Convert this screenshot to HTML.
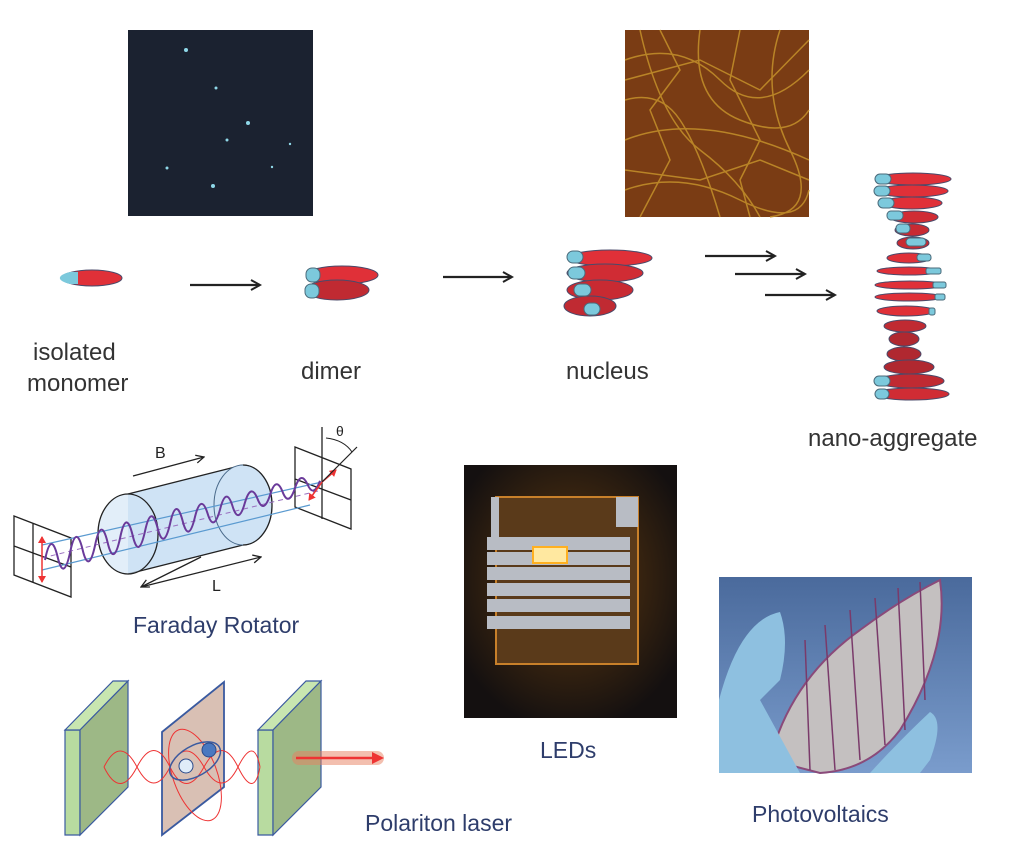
<!DOCTYPE html>
<html><head><meta charset="utf-8"><style>
html,body{margin:0;padding:0;background:#fff;width:1024px;height:847px;overflow:hidden}
svg{display:block}
.t{font-family:"Liberation Sans",sans-serif;fill:#333;font-size:24px}
.b{font-family:"Liberation Sans",sans-serif;fill:#2e3d6b;font-size:23px}
</style></head><body>
<svg width="1024" height="847" viewBox="0 0 1024 847" xmlns="http://www.w3.org/2000/svg">
<defs>
<marker id="ah" markerWidth="12" markerHeight="12" refX="10" refY="6" orient="auto" markerUnits="userSpaceOnUse"><path d="M1,1 L10,6 L1,11" fill="none" stroke="#222" stroke-width="2"/></marker>
<marker id="ak" markerWidth="10" markerHeight="10" refX="9" refY="5" orient="auto" markerUnits="userSpaceOnUse"><path d="M1,1 L9,5 L1,9" fill="none" stroke="#222" stroke-width="1.3"/></marker>
<marker id="ar" markerWidth="8" markerHeight="8" refX="6" refY="4" orient="auto" markerUnits="userSpaceOnUse"><path d="M0,0 L7,4 L0,8z" fill="#e33"/></marker>
<radialGradient id="glow" cx="0.5" cy="0.45" r="0.6"><stop offset="0" stop-color="#8a5a20"/><stop offset="0.5" stop-color="#3a2510"/><stop offset="1" stop-color="#141010"/></radialGradient>
<linearGradient id="sky" x1="0" y1="0" x2="0" y2="1"><stop offset="0" stop-color="#4a6a9c"/><stop offset="1" stop-color="#7a9ccc"/></linearGradient>
</defs>

<rect x="128" y="30" width="185" height="186" fill="#1b2230"/>
<g fill="#8fd8e8"><circle cx="186" cy="50" r="2"/><circle cx="216" cy="88" r="1.5"/><circle cx="248" cy="123" r="2"/><circle cx="227" cy="140" r="1.5"/><circle cx="290" cy="144" r="1.2"/><circle cx="167" cy="168" r="1.5"/><circle cx="213" cy="186" r="2"/><circle cx="272" cy="167" r="1.2"/></g>

<rect x="625" y="30" width="184" height="187" fill="#7a3c14"/>
<g stroke="#c9962c" stroke-width="1.5" fill="none" opacity="0.8">
<path d="M625,60 Q680,40 720,80 T809,70"/><path d="M640,30 Q660,120 700,150 T760,217"/><path d="M625,140 Q700,110 809,160"/><path d="M700,30 Q690,100 740,120 T809,110"/><path d="M625,190 Q680,170 740,200 T809,190"/><path d="M780,30 Q760,90 790,150 T770,217"/><path d="M625,100 Q660,90 680,120 T720,217"/><path d="M660,30 L680,70 L650,110 L670,160 L640,217"/><path d="M740,30 L730,80 L760,140 L740,180 L750,217"/><path d="M625,170 L700,180 L760,160 L809,180"/><path d="M625,80 L700,60 L760,90 L809,40"/>
</g>

<ellipse cx="92" cy="278" rx="30" ry="8" fill="#e03038" stroke="#4a4a6a"/>
<path d="M70,272 A30,8 0 0 0 70,284 L78,284 L78,272 Z" fill="#7cc9dc"/>
<line x1="190" y1="285" x2="260" y2="285" stroke="#222" stroke-width="2.2" marker-end="url(#ah)"/>
<ellipse cx="342" cy="275" rx="36" ry="9" fill="#e03038" stroke="#4a4a6a"/>
<ellipse cx="337" cy="290" rx="32" ry="10" fill="#c02a32" stroke="#4a4a6a"/>
<rect x="306" y="268" width="14" height="14" rx="6" fill="#7cc9dc" stroke="#4a6a7a"/>
<rect x="305" y="284" width="14" height="14" rx="6" fill="#7cc9dc" stroke="#4a6a7a"/>
<line x1="443" y1="277" x2="512" y2="277" stroke="#222" stroke-width="2.2" marker-end="url(#ah)"/>
<g stroke="#4a4a6a">
<ellipse cx="610" cy="258" rx="42" ry="8" fill="#e03038"/>
<ellipse cx="605" cy="273" rx="38" ry="9" fill="#d02c34"/>
<ellipse cx="600" cy="290" rx="33" ry="10" fill="#c82a32"/>
<ellipse cx="590" cy="306" rx="26" ry="10" fill="#c02a32"/>
</g>
<g fill="#7cc9dc" stroke="#4a6a7a"><rect x="567" y="251" width="16" height="12" rx="6"/><rect x="568" y="267" width="17" height="12" rx="6"/><rect x="574" y="284" width="17" height="12" rx="6"/><rect x="584" y="303" width="16" height="12" rx="6"/></g>
<line x1="705" y1="256" x2="775" y2="256" stroke="#222" stroke-width="2.2" marker-end="url(#ah)"/>
<line x1="735" y1="274" x2="805" y2="274" stroke="#222" stroke-width="2.2" marker-end="url(#ah)"/>
<line x1="765" y1="295" x2="835" y2="295" stroke="#222" stroke-width="2.2" marker-end="url(#ah)"/>
<g stroke="#4a4a6a">
<ellipse cx="913" cy="179" rx="38" ry="6" fill="#e03038"/>
<ellipse cx="912" cy="191" rx="36" ry="6" fill="#e03038"/>
<ellipse cx="912" cy="203" rx="30" ry="6" fill="#e03038"/>
<ellipse cx="914" cy="217" rx="24" ry="6" fill="#d02c34"/>
<ellipse cx="912" cy="230" rx="17" ry="6" fill="#c82a32"/>
<ellipse cx="913" cy="243" rx="16" ry="6" fill="#c82a32"/>
<ellipse cx="909" cy="258" rx="22" ry="5" fill="#e03038"/>
<ellipse cx="909" cy="271" rx="32" ry="4" fill="#e03038"/>
<ellipse cx="910" cy="285" rx="35" ry="4" fill="#e03038"/>
<ellipse cx="909" cy="297" rx="34" ry="4" fill="#e03038"/>
<ellipse cx="906" cy="311" rx="29" ry="5" fill="#e03038"/>
<ellipse cx="905" cy="326" rx="21" ry="6" fill="#c02a32"/>
<ellipse cx="904" cy="339" rx="15" ry="7" fill="#b02830"/>
<ellipse cx="904" cy="354" rx="17" ry="7" fill="#b02830"/>
<ellipse cx="909" cy="367" rx="25" ry="7" fill="#b02830"/>
<ellipse cx="911" cy="381" rx="33" ry="7" fill="#c02a32"/>
<ellipse cx="912" cy="394" rx="37" ry="6" fill="#d02c34"/>
</g>
<g fill="#7cc9dc" stroke="#4a6a7a"><rect x="875" y="174" width="16" height="10" rx="5"/><rect x="874" y="186" width="16" height="10" rx="5"/><rect x="878" y="198" width="16" height="10" rx="5"/><rect x="887" y="211" width="16" height="9" rx="4"/><rect x="896" y="224" width="14" height="9" rx="4"/><rect x="906" y="238" width="20" height="8" rx="4"/><rect x="917" y="254" width="14" height="7" rx="3"/><rect x="926" y="268" width="15" height="6" rx="2"/><rect x="933" y="282" width="13" height="6" rx="2"/><rect x="935" y="294" width="10" height="6" rx="2"/><rect x="929" y="308" width="6" height="7" rx="2"/><rect x="874" y="376" width="16" height="10" rx="5"/><rect x="875" y="389" width="14" height="10" rx="5"/></g>

<text class="t" x="33" y="360">isolated</text>
<text class="t" x="27" y="391">monomer</text>
<text class="t" x="301" y="379">dimer</text>
<text class="t" x="566" y="379">nucleus</text>
<text class="t" x="808" y="446">nano-aggregate</text>

<!-- Faraday rotator -->
<g stroke="#222" stroke-width="1.3" fill="none">
<path d="M14,516 L71,538 L71,597 L14,575 Z M33,523 L33,582 M14,546 L71,567"/>
<path d="M295,447 L351,469 L351,529 L295,507 Z M322,427 L322,519 M295,479 L351,500"/>
</g>
<path d="M128,494 L243,465 L243,545 L128,574 Z" fill="#cfe3f5"/>
<line x1="128" y1="494" x2="243" y2="465" stroke="#222" stroke-width="1.3"/>
<line x1="128" y1="574" x2="243" y2="545" stroke="#222" stroke-width="1.3"/>
<ellipse cx="243" cy="505" rx="29" ry="40" fill="#cfe3f5" stroke="#4a6a8a" stroke-width="1"/>
<path d="M243,465 A29,40 0 0 1 243,545" fill="none" stroke="#222" stroke-width="1.3"/>
<ellipse cx="128" cy="534" rx="30" ry="40" fill="#cfe3f5" fill-opacity="0.6" stroke="#222" stroke-width="1.3"/>
<line x1="42" y1="545" x2="322" y2="482" stroke="#5a9ad0" stroke-width="1.2"/>
<line x1="42" y1="570" x2="310" y2="505" stroke="#5a9ad0" stroke-width="1.2"/>
<line x1="42" y1="558" x2="322" y2="490" stroke="#9a70c0" stroke-width="1" stroke-dasharray="5,4"/>
<path d="M45,560 q6,-30 12.5,-3.6 q6,26 12.5,-3.6 q6,-30 12.5,-3.6 q6,26 12.5,-3.6 q6,-30 12.5,-3.6 q6,26 12.5,-3.6 q6,-30 12.5,-3.6 q6,26 12.5,-3.6 q6,-28 12.5,-3.6 q6,24 12.5,-3.6 q6,-28 12.5,-3.6 q6,24 12.5,-3.6 q6,-24 12.5,-3.6 q6,20 12.5,-3.6 q6,-24 12.5,-3.6 q6,20 12.5,-3.6 q6,-20 12.5,-3.6 q6,16 12.5,-3.6 q6,-20 12.5,-3.6 q6,16 12.5,-3.6 q6,-18 12.5,-3.6 q6,14 12.5,-3.6" fill="none" stroke="#6a3a9a" stroke-width="2"/>
<line x1="42" y1="560" x2="42" y2="537" stroke="#e33" stroke-width="1.5" marker-end="url(#ar)"/>
<line x1="42" y1="560" x2="42" y2="582" stroke="#e33" stroke-width="1.5" marker-end="url(#ar)"/>
<line x1="322" y1="482" x2="336" y2="470" stroke="#e33" stroke-width="1.5" marker-end="url(#ar)"/>
<line x1="322" y1="482" x2="309" y2="500" stroke="#e33" stroke-width="1.5" marker-end="url(#ar)"/>
<line x1="322" y1="482" x2="357" y2="447" stroke="#222" stroke-width="1.2"/>
<path d="M326,438 Q344,440 352,452" fill="none" stroke="#222"/>
<text x="336" y="436" font-family="Liberation Sans,sans-serif" font-size="14" fill="#222">θ</text>
<line x1="133" y1="476" x2="204" y2="457" stroke="#222" stroke-width="1.3" marker-end="url(#ak)"/>
<text x="155" y="458" font-family="Liberation Sans,sans-serif" font-size="16" fill="#222">B</text>
<line x1="201" y1="557" x2="141" y2="587" stroke="#222" stroke-width="1.3" marker-end="url(#ak)"/>
<line x1="141" y1="587" x2="261" y2="557" stroke="#222" stroke-width="1.3" marker-end="url(#ak)"/>
<text x="212" y="591" font-family="Liberation Sans,sans-serif" font-size="16" fill="#222">L</text>
<text class="b" x="133" y="633">Faraday Rotator</text>

<!-- Polariton laser -->
<g stroke="#3a5aa0" stroke-width="1.2">
<path d="M65,730 L80,730 L80,835 L65,835 Z" fill="#b8dba0"/>
<path d="M65,730 L113,681 L128,681 L80,730 Z" fill="#c8e6b0"/>
<path d="M80,730 L128,681 L128,787 L80,835 Z" fill="#9db886"/>
<path d="M162,732 L224,682 L224,787 L162,835 Z" fill="#d9c0b4" stroke-width="1.8"/>
<path d="M258,730 L273,730 L273,835 L258,835 Z" fill="#b8dba0"/>
<path d="M258,730 L306,681 L321,681 L273,730 Z" fill="#c8e6b0"/>
<path d="M273,730 L321,681 L321,787 L273,835 Z" fill="#9db886"/>
</g>
<path d="M104,767 Q120,735 137,767 T170,767 T204,767 T238,767 T260,767 M104,767 Q120,800 137,767 T170,767 T204,767 T238,767 T260,767" fill="none" stroke="#e33" stroke-width="1"/>
<ellipse cx="195" cy="775" rx="22" ry="48" transform="rotate(-20 195 775)" fill="none" stroke="#e33" stroke-width="1"/>
<ellipse cx="195" cy="761" rx="28" ry="15" transform="rotate(-30 195 761)" fill="none" stroke="#3a5aa0" stroke-width="1.5"/>
<circle cx="209" cy="750" r="7" fill="#4a78c0" stroke="#2a4a8a"/>
<circle cx="186" cy="766" r="7" fill="#e0ecf8" stroke="#2a4a8a"/>
<rect x="292" y="751" width="92" height="14" rx="7" fill="#e88060" opacity="0.5"/>
<line x1="296" y1="758" x2="380" y2="758" stroke="#e33" stroke-width="2.5"/>
<path d="M372,752 L384,758 L372,764 Z" fill="#e33"/>
<text class="b" x="365" y="831">Polariton laser</text>

<rect x="464" y="465" width="213" height="253" fill="url(#glow)"/>
<rect x="496" y="497" width="142" height="167" fill="#5a3a1a" stroke="#c8802a" stroke-width="2"/>
<g fill="#b8bcc4"><rect x="487" y="537" width="143" height="13"/><rect x="487" y="552" width="143" height="13"/><rect x="487" y="567" width="143" height="13"/><rect x="487" y="583" width="143" height="13"/><rect x="487" y="599" width="143" height="13"/><rect x="487" y="616" width="143" height="13"/><rect x="491" y="497" width="8" height="40"/><rect x="616" y="497" width="22" height="30"/></g>
<rect x="533" y="547" width="34" height="16" fill="#ffe8a0" stroke="#ffb020" stroke-width="2"/>
<text class="b" x="540" y="758">LEDs</text>

<rect x="719" y="577" width="253" height="196" fill="url(#sky)"/>
<path d="M770,760 Q790,680 860,630 Q900,600 940,580 Q950,650 900,730 Q870,770 820,773 Z" fill="#c4c0c0" stroke="#8a4a7a" stroke-width="2"/>
<g stroke="#7a3a6a" stroke-width="1.5"><line x1="805" y1="640" x2="810" y2="770"/><line x1="825" y1="625" x2="835" y2="770"/><line x1="850" y1="610" x2="860" y2="760"/><line x1="875" y1="598" x2="885" y2="745"/><line x1="898" y1="588" x2="905" y2="730"/><line x1="920" y1="582" x2="925" y2="700"/></g>
<path d="M719,700 Q740,620 780,612 Q790,640 780,680 L760,700 L800,773 L719,773 Z" fill="#8ec0e0"/>
<path d="M870,773 Q900,740 930,712 Q945,720 930,760 L920,773 Z" fill="#8ec0e0"/>
<text class="b" x="752" y="822">Photovoltaics</text>
</svg>
</body></html>
